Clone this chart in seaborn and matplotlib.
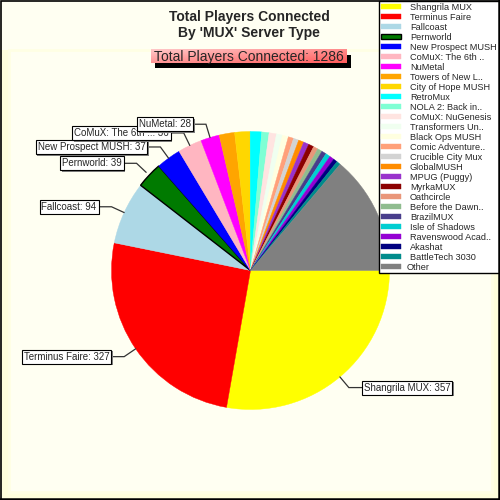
import numpy as np
import matplotlib
matplotlib.use("Agg")
import matplotlib.pyplot as plt
import matplotlib.patches as mpatches
import matplotlib.patheffects as pe
import seaborn as sns

names = ["Shangrila MUX", "Terminus Faire", "Fallcoast", "Pernworld", "New Prospect MUSH",
         "CoMuX: The 6th ..", "NuMetal", "Towers of New L..", "City of Hope MUSH", "RetroMux",
         "NOLA 2: Back in..", "CoMuX: NuGenesis", "Transformers Un..", "Black Ops MUSH",
         "Comic Adventure..", "Crucible City Mux", "GlobalMUSH", "MPUG (Puggy)", "MyrkaMUX",
         "Oathcircle", "Before the Dawn..", "BrazilMUX", "Isle of Shadows", "Ravenswood Acad..",
         "Akashat", "BattleTech 3030", "Other"]
values = [357, 327, 94, 39, 37, 36, 28, 23, 23, 17, 11, 11, 9, 9, 8, 8, 8, 8, 8, 7, 7, 7, 7, 7, 6, 6, 178]
colors = ["#FFFF00", "#FF0000", "#ADD8E6", "#007A00", "#0000FF", "#FFB6C1", "#FF00FF", "#FFA500",
          "#FFD700", "#00FFFF", "#7FFFD4", "#FFE4E1", "#F0FFF0", "#FFFFE0", "#FFA07A", "#D3D3D3",
          "#FF8C00", "#9932CC", "#8B0000", "#E9967A", "#8FBC8F", "#483D8B", "#00CED1", "#9400D3",
          "#000080", "#008B8B", "#808080"]
labeled_count = 7
title_lines = ["Total Players Connected", "By 'MUX' Server Type"]
subtitle = "Total Players Connected: %d" % sum(values)

sns.set_theme(style="white")
plt.rcParams['font.family'] = ['Liberation Sans', 'DejaVu Sans']
palette = sns.color_palette(colors)

fig = plt.figure(figsize=(5, 5), dpi=100)
fig.patch.set_facecolor("#FFFFE4")
ax = fig.add_axes([0, 0, 1, 1])

explode = [0.085 if n == "Pernworld" else 0 for n in names]
R = 139
cx, cy = 250.5, 270.5
wedges, _ = ax.pie(values, colors=palette, explode=explode, startangle=0, counterclock=True,
                   radius=R, center=(cx, cy), wedgeprops=dict(linewidth=0.3))
for w, c, n in zip(wedges, palette, names):
    if n == "Pernworld":
        w.set_edgecolor("black")
        w.set_linewidth(1.0)
    else:
        w.set_edgecolor(c)
    w.set_zorder(3)

ax.set_xlim(0, 500)
ax.set_ylim(500, 0)
ax.set_aspect("equal")
ax.axis("off")

# background panels
ax.add_patch(mpatches.Rectangle((0, 0), 500, 500, facecolor="#FFFFDC", edgecolor="none", zorder=0))
ax.add_patch(mpatches.Rectangle((0, 0), 500, 50, facecolor="#FFFFF2", edgecolor="none", zorder=0.3))
ax.add_patch(mpatches.Rectangle((9, 50), 483, 442, facecolor="#FFFFF2", edgecolor="#FFFFE4", lw=2, zorder=0.5))
ax.plot([498.5, 0.6, 0.6], [0.6, 0.6, 498.5], color="black", lw=1.2, zorder=10,
        solid_joinstyle="miter")
ax.plot([0, 498.8, 498.8], [498.8, 498.8, 0], color="black", lw=1.8, zorder=10,
        solid_joinstyle="miter")

# title
ax.text(249, 21, title_lines[0], ha="center", va="baseline", fontsize=10, fontweight="bold", zorder=6)
ax.text(249, 37, title_lines[1], ha="center", va="baseline", fontsize=10, fontweight="bold", zorder=6)

# subtitle box with gradient and shadow
bx0, bx1, by0, by1 = 150.7, 346.7, 50, 63.3
ax.add_patch(mpatches.Rectangle((bx0 + 4, by0 + 5), bx1 - bx0, by1 - by0, facecolor="black", edgecolor="none", zorder=4))
gx = np.linspace(0, 1, 64)
gy = np.linspace(0, 1, 16)
G = np.zeros((16, 64, 3))
t = 0.55 * gx[None, :] + 0.45 * gy[:, None]
G[..., 0] = 1.0
G[..., 1] = 0.78 - 0.42 * t
G[..., 2] = 0.78 - 0.42 * t
ax.imshow(G, extent=(bx0, bx1, by1, by0), aspect="auto", zorder=5, interpolation="bilinear")
ax.set_xlim(0, 500)
ax.set_ylim(500, 0)
ax.text((bx0 + bx1) / 2, 60.5, subtitle, ha="center", va="baseline", fontsize=10, zorder=6)

# slice labels with leader lines
fs = 7
pad_px = 0.2 * fs * 100 / 72
for i in range(labeled_count):
    w = wedges[i]
    mid = np.deg2rad((w.theta1 + w.theta2) / 2)
    wcx, wcy = w.center
    r = w.r
    c, s = np.cos(mid), np.sin(mid)
    k0, k1 = (1.03, 1.125) if explode[i] else (1.0, 1.1)
    p0 = (wcx + k0 * r * c, wcy + k0 * r * s)
    p1 = (wcx + k1 * r * c, wcy + k1 * r * s)
    side = 1 if c > 0 else -1
    p2 = (p1[0] + side * 13, p1[1])
    ax.plot([p0[0], p1[0], p2[0]], [p0[1], p1[1], p2[1]], color="#333333", lw=0.9, zorder=6,
            solid_joinstyle="miter")
    txt = ax.text(p2[0] + side * pad_px, p2[1], "%s: %d" % (names[i], values[i]),
                  ha="left" if side > 0 else "right", va="center", fontsize=fs, zorder=7,
                  bbox=dict(boxstyle="square,pad=0.2", facecolor="white", edgecolor="black", lw=0.8))
    txt.get_bbox_patch().set_path_effects([
        pe.SimplePatchShadow(offset=(1.2, -1.2), shadow_rgbFace="#808080", alpha=1.0), pe.Normal()])

# legend (drawn as a key box)
lx0, ly0, lx1, ly1 = 378.5, 0.5, 503, 272.5
ax.add_patch(mpatches.Rectangle((lx0, ly0), lx1 - lx0, ly1 - ly0, facecolor="white",
                                edgecolor="black", lw=1.0, zorder=8))
for i, (n, c) in enumerate(zip(names, palette)):
    ax.add_patch(mpatches.Rectangle((381, 4 + 10 * i), 20, 5, facecolor=c,
                                    edgecolor="black" if n == "Pernworld" else c,
                                    lw=1.0 if n == "Pernworld" else 0.3, zorder=9))
    ax.text(410 if n != "Other" else 407, 10 + 10 * i, n, ha="left", va="baseline",
            fontsize=6.6, zorder=9)

fig.savefig("out.png", dpi=100, facecolor=fig.get_facecolor())
